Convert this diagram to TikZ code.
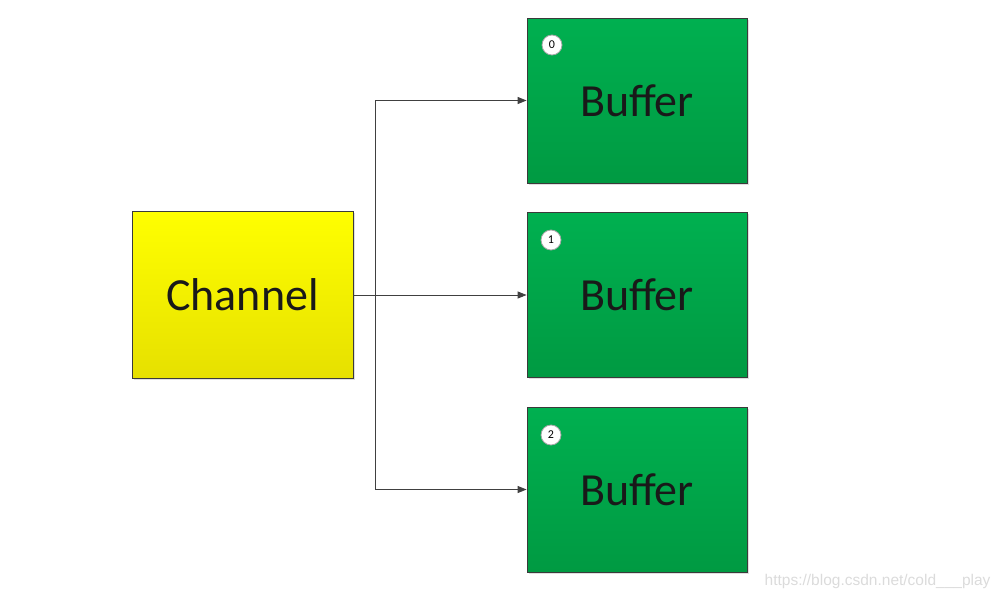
\documentclass[tikz,border=0pt]{standalone}
\usepackage{fontspec}
\setmainfont{Carlito}
\newfontfamily\wmfont{Liberation Sans}
\usetikzlibrary{arrows.meta,shadows}
\definecolor{boxedge}{HTML}{3A3A3A}
\definecolor{greentop}{HTML}{00B050}
\definecolor{greenbot}{HTML}{009A42}
\definecolor{yeltop}{HTML}{FFFF00}
\definecolor{yelbot}{HTML}{E6E000}
\definecolor{wire}{HTML}{404040}
\tikzset{
  bufbox/.style={draw=boxedge, line width=0.8pt, top color=greentop, bottom color=greenbot,
    minimum width=220pt, minimum height=165pt, inner sep=0pt,
    drop shadow={shadow xshift=1.5pt, shadow yshift=-1.5pt, opacity=0.25},
    font=\fontsize{46}{46}\selectfont, text=black!90},
  chanbox/.style={draw=boxedge, line width=0.8pt, top color=yeltop, bottom color=yelbot,
    minimum width=221pt, minimum height=167pt, inner sep=0pt,
    drop shadow={shadow xshift=1.5pt, shadow yshift=-1.5pt, opacity=0.25},
    font=\fontsize{46}{46}\selectfont, text=black!90},
  numcirc/.style={circle, draw=gray!70, fill=white, line width=0.8pt, minimum size=20pt,
    inner sep=0pt, font=\fontsize{12}{12}\selectfont},
  wireline/.style={draw=wire, line width=0.9pt},
  wirearrow/.style={wireline, -{Triangle[length=9pt,width=7pt]}}
}
\begin{document}
\begin{tikzpicture}[x=1pt,y=-1pt]
\useasboundingbox (0,0) rectangle (1004,600);
\node[chanbox] (ch) at (242.5,295) {Channel};
\node[bufbox] (b0) at (637,100.5) {Buffer};
\node[bufbox] (b1) at (637,295) {Buffer};
\node[bufbox] (b2) at (637,489.5) {Buffer};
\node[numcirc] (n0) at (552,45) {0};
\node[numcirc] (n1) at (551,240) {1};
\node[numcirc] (n2) at (551,435) {2};
\coordinate (jt) at (375,100.5);
\coordinate (jb) at (375,489.5);
\draw[wireline] (jt) -- (jb);
\draw[wirearrow] (ch.east) -- (b1.west);
\draw[wirearrow] (jt) -- (b0.west);
\draw[wirearrow] (jb) -- (b2.west);
\node[anchor=east, text=gray!28, font=\wmfont\fontsize{15.5}{15.5}\selectfont] (wm) at (994,581) {https://blog.csdn.net/cold\_\_\_play};
\end{tikzpicture}
\end{document}
